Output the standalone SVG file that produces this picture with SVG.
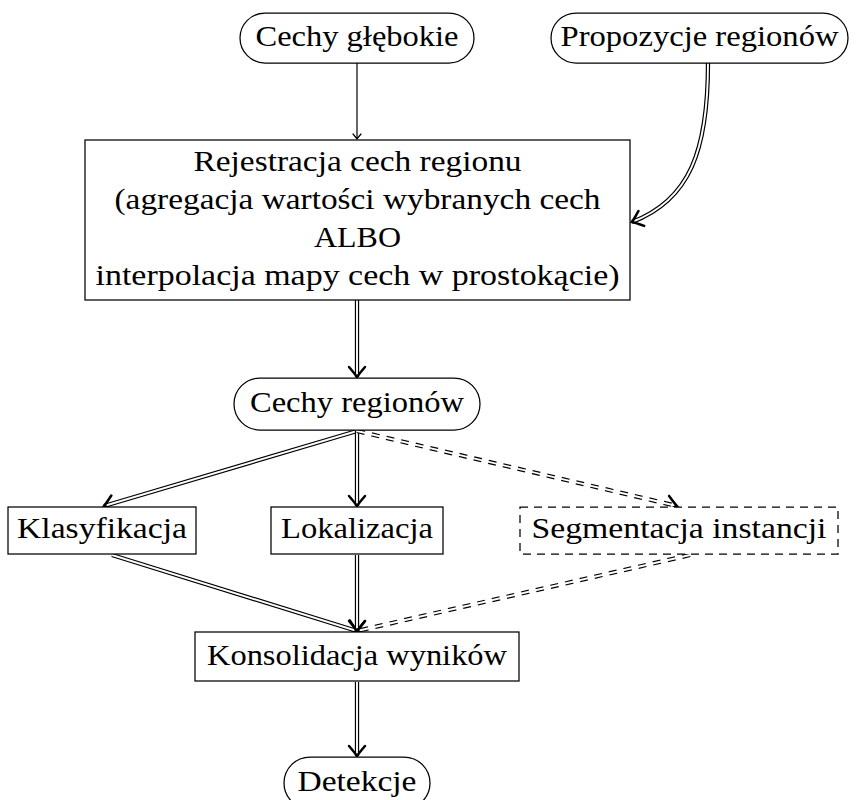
<svg xmlns="http://www.w3.org/2000/svg" width="858" height="800" viewBox="0 0 858 800">
  <style>
    text { font-family: "Liberation Serif", "Times New Roman", serif; font-size: 30px; fill: #000; text-anchor: middle; }
    .node { fill: #fff; stroke: #000; stroke-width: 1.25; }
    .dashed { stroke-dasharray: 8 6; }
    .outer { fill: none; stroke: #000; stroke-width: 4.3; }
    .inner { fill: none; stroke: #fff; stroke-width: 1.9; }
    .single { fill: none; stroke: #000; stroke-width: 1.2; }
    .dash { stroke-dasharray: 8 7; }
  </style>
  <defs>
    <marker id="headBig" markerUnits="userSpaceOnUse" viewBox="-12 -9 14 18" markerWidth="14" markerHeight="18" refX="0" refY="0" orient="auto" overflow="visible">
      <path d="M -10,-8 Q -3,-2 0,0 Q -3,2 -10,8" fill="none" stroke="#000" stroke-width="2.5" stroke-linecap="round"/>
    </marker>
    <marker id="headSmall" markerUnits="userSpaceOnUse" viewBox="-8 -6 10 12" markerWidth="10" markerHeight="12" refX="0" refY="0" orient="auto" overflow="visible">
      <path d="M -5,-4 Q -1.5,-1 0,0 Q -1.5,1 -5,4" fill="none" stroke="#000" stroke-width="1.2" stroke-linecap="round"/>
    </marker>
  </defs>

  <!-- connectors: double lines are a wide black stroke with a white core on top -->
  <g id="connectors">
    <path class="single" d="M 357,63 L 357,139" marker-end="url(#headSmall)"/>

    <path class="outer" d="M 708,63 C 708,150 690,200 632,222"/>
    <path class="inner" d="M 708,63 C 708,150 690,200 632,222" marker-end="url(#headBig)"/>

    <path class="outer" d="M 357,300 L 357,377"/>
    <path class="inner" d="M 357,300 L 357,377" marker-end="url(#headBig)"/>

    <path class="outer" d="M 357,431 L 104,506"/>
    <path class="inner" d="M 357,431 L 104,506" marker-end="url(#headBig)"/>

    <path class="outer" d="M 357,431 L 357,506"/>
    <path class="inner" d="M 357,431 L 357,506" marker-end="url(#headBig)"/>

    <path class="outer dash" d="M 357,431 L 677,506"/>
    <path class="inner" d="M 357,431 L 677,506" marker-end="url(#headBig)"/>

    <path class="outer" d="M 112,555 L 357,631"/>
    <path class="inner" d="M 112,555 L 357,631" marker-end="url(#headBig)"/>

    <path class="outer" d="M 357,555 L 357,631"/>
    <path class="inner" d="M 357,555 L 357,631" marker-end="url(#headBig)"/>

    <path class="outer dash" d="M 690,555 L 357,631"/>
    <path class="inner" d="M 690,555 L 357,631" marker-end="url(#headBig)"/>

    <path class="outer" d="M 357,682 L 357,756"/>
    <path class="inner" d="M 357,682 L 357,756" marker-end="url(#headBig)"/>
  </g>

  <g id="deep-features">
    <rect class="node" x="240" y="13" width="234" height="50" rx="25" ry="25"/>
    <text x="357" y="46" textLength="203" lengthAdjust="spacingAndGlyphs">Cechy głębokie</text>
  </g>

  <g id="region-proposals">
    <rect class="node" x="551" y="13" width="297" height="50" rx="25" ry="25"/>
    <text x="699.5" y="46" textLength="278" lengthAdjust="spacingAndGlyphs">Propozycje regionów</text>
  </g>

  <g id="region-feature-registration">
    <rect class="node" x="85" y="140" width="545" height="160"/>
    <text x="357.5" y="171" textLength="328" lengthAdjust="spacingAndGlyphs">Rejestracja cech regionu</text>
    <text x="357.5" y="209" textLength="486" lengthAdjust="spacingAndGlyphs">(agregacja wartości wybranych cech</text>
    <text x="357.5" y="247" textLength="87" lengthAdjust="spacingAndGlyphs">ALBO</text>
    <text x="357.5" y="285" textLength="524" lengthAdjust="spacingAndGlyphs">interpolacja mapy cech w prostokącie)</text>
  </g>

  <g id="region-features">
    <rect class="node" x="234" y="378" width="246" height="52" rx="26" ry="26"/>
    <text x="357" y="412" textLength="214" lengthAdjust="spacingAndGlyphs">Cechy regionów</text>
  </g>

  <g id="classification">
    <rect class="node" x="8" y="507" width="188" height="47"/>
    <text x="102" y="538" textLength="170" lengthAdjust="spacingAndGlyphs">Klasyfikacja</text>
  </g>

  <g id="localization">
    <rect class="node" x="271" y="507" width="172" height="47"/>
    <text x="357" y="538" textLength="152" lengthAdjust="spacingAndGlyphs">Lokalizacja</text>
  </g>

  <g id="instance-segmentation">
    <rect class="node dashed" x="520" y="507" width="318" height="47"/>
    <text x="679" y="538" textLength="295" lengthAdjust="spacingAndGlyphs">Segmentacja instancji</text>
  </g>

  <g id="result-consolidation">
    <rect class="node" x="195" y="632" width="324" height="49"/>
    <text x="357" y="665" textLength="300" lengthAdjust="spacingAndGlyphs">Konsolidacja wyników</text>
  </g>

  <g id="detections">
    <rect class="node" x="284" y="757" width="146" height="52" rx="26" ry="26"/>
    <text x="357" y="791" textLength="119" lengthAdjust="spacingAndGlyphs">Detekcje</text>
  </g>
</svg>
